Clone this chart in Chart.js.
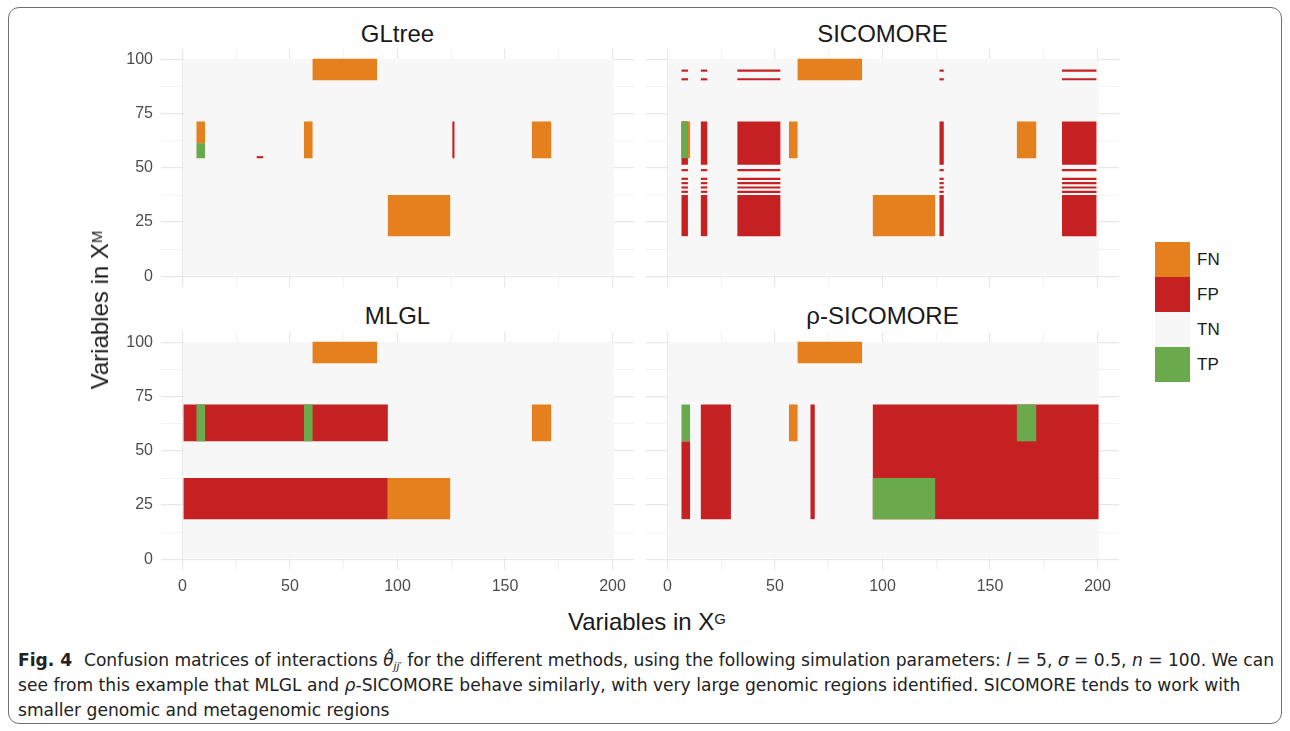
<!DOCTYPE html>
<html>
<head>
<meta charset="utf-8">
<script src="https://cdn.jsdelivr.net/npm/chart.js@4.4.0/dist/chart.umd.min.js"></script>
<style>
  body { margin: 0; width: 1290px; height: 731px; position: relative; overflow: hidden; background: #fff;
         font-family: "Liberation Sans", Arial, sans-serif; }
  .frame { position: absolute; left: 8px; top: 7px; width: 1272px; height: 715px; border: 1px solid #707070; border-radius: 11px; }
  canvas { position: absolute; }
  .ptitle { position: absolute; width: 473px; text-align: center; font-size: 24px; color: #1a1a1a; line-height: 28px; }
  .axtitle { position: absolute; font-size: 24px; color: #1a1a1a; white-space: nowrap; line-height: 28px; }
  .axtitle sup { font-size: 15px; position: relative; top: -3px; vertical-align: top; }
  .key { position: absolute; left: 1155px; width: 35px; height: 35px; }
  .keylab { position: absolute; left: 1197px; font-size: 17px; color: #1a1a1a; line-height: 20px; }
  #caption { position: absolute; left: 18px; top: 647px; font-family: "Liberation Sans Narrow", "DejaVu Sans Condensed", sans-serif;
             font-size: 18px; line-height: 25px; color: #222; white-space: nowrap; transform-origin: 0 0; }
  #caption div { height: 25px; }
  #caption b { margin-right: 6px; }
  #caption sub { font-size: 11px; line-height: 0; vertical-align: -4px; }
</style>
</head>
<body>
<div class="frame"></div>

<div class="ptitle" style="left:161px; top:20px;">GLtree</div>
<div class="ptitle" style="left:646px; top:20px;">SICOMORE</div>
<div class="ptitle" style="left:161px; top:302px;">MLGL</div>
<div class="ptitle" style="left:646px; top:302px;">ρ-SICOMORE</div>

<canvas id="glTree" width="534" height="238" style="left:100px; top:49px;"></canvas>
<canvas id="sicomore" width="473" height="238" style="left:646px; top:49px;"></canvas>
<canvas id="mlgl" width="534" height="268" style="left:100px; top:332px;"></canvas>
<canvas id="rhoSicomore" width="473" height="268" style="left:646px; top:332px;"></canvas>

<div class="axtitle" style="left:568px; top:608px;">Variables in X<sup>G</sup></div>
<div class="axtitle" style="left:100px; top:310px; transform: translate(-50%, -50%) rotate(-90deg);">Variables in X<sup>M</sup></div>

<div class="key" style="top:242px; background:#E5801F;"></div>
<div class="key" style="top:277px; background:#C62122;"></div>
<div class="key" style="top:312px; background:#F7F7F7;"></div>
<div class="key" style="top:347px; background:#6BAA4C;"></div>
<div class="keylab" style="top:250px;">FN</div>
<div class="keylab" style="top:285px;">FP</div>
<div class="keylab" style="top:320px;">TN</div>
<div class="keylab" style="top:355px;">TP</div>

<div id="caption">
  <div id="capLine1"><b>Fig. 4</b> Confusion matrices of interactions <i>θ̂</i><sub><i>jj′</i></sub> for the different methods, using the following simulation parameters: <i>l</i> = 5, <i>σ</i> = 0.5, <i>n</i> = 100. We can</div>
  <div>see from this example that MLGL and <i>ρ</i>-SICOMORE behave similarly, with very large genomic regions identified. SICOMORE tends to work with</div>
  <div>smaller genomic and metagenomic regions</div>
</div>

<script>
// -- ** colores ** -- \\
const colorFN = '#E5801F';
const colorFP = '#C62122';
const colorTN = '#F7F7F7';
const colorTP = '#6BAA4C';

// -- ** ejes ** -- \\
const xTicks = [0, 25, 50, 75, 100, 125, 150, 175, 200];
const yTicks = [0, 12.5, 25, 37.5, 50, 62.5, 75, 87.5, 100];
const xLabels = [0, 50, 100, 150, 200];
const yLabels = [0, 25, 50, 75, 100];

// each block: [first column (X^G), last column, first row (X^M), last row]
const tnAll = [[1, 200, 1, 100]];

const glFN = [[61, 90, 91, 100], [57, 60, 55, 71], [163, 171, 55, 71], [96, 124, 19, 37], [7, 10, 62, 71]];
const glFP = [[35, 37, 55, 55], [126, 126, 55, 71]];
const glTP = [[7, 10, 55, 61]];

const scFN = [[61, 90, 91, 100], [57, 60, 55, 71], [96, 124, 19, 37], [163, 171, 55, 71], [10, 10, 55, 71]];
const scFPcols = [[7, 9], [16, 18], [33, 52], [127, 128], [184, 199]];
const scFProws = [[91, 91], [95, 95], [52, 71], [49, 49], [45, 45], [43, 43], [41, 41], [39, 39], [19, 37]];
const scTP = [[7, 9, 55, 71]];

const mlFN = [[61, 90, 91, 100], [163, 171, 55, 71], [96, 124, 19, 37]];
const mlFP = [[1, 95, 55, 71], [1, 95, 19, 37]];
const mlTP = [[7, 10, 55, 71], [57, 60, 55, 71]];

const rsFN = [[61, 90, 91, 100], [57, 60, 55, 71]];
const rsFP = [[7, 10, 19, 54], [16, 29, 19, 71], [67, 68, 19, 71], [96, 200, 19, 71]];
const rsTP = [[7, 10, 55, 71], [163, 171, 55, 71], [96, 124, 19, 37]];


// -- ** bloques -> datasets ** -- \\
function blockDataset(b, color, order) {
  const x0 = b[0] - 0.5, x1 = b[1] + 0.5, y0 = b[2] - 0.5, y1 = b[3] + 0.5;
  return {
    data: [{ x: x0, y: y0 }, { x: x1, y: y0 }, { x: x1, y: y1 }, { x: x0, y: y1 }],
    backgroundColor: color,
    borderColor: 'transparent',
    borderWidth: 0,
    pointRadius: 0,
    fill: 'shape',
    tension: 0,
    order: order
  };
}

function buildDatasets(fn, fp, tp) {
  let sets = [];
  tnAll.forEach(b => sets.push(blockDataset(b, colorTN, 4)));
  fp.forEach(b => sets.push(blockDataset(b, colorFP, 3)));
  fn.forEach(b => sets.push(blockDataset(b, colorFN, 2)));
  tp.forEach(b => sets.push(blockDataset(b, colorTP, 1)));
  return sets;
}

function crossBlocks(cols, rows) {
  let out = [];
  cols.forEach(c => rows.forEach(r => out.push([c[0], c[1], r[0], r[1]])));
  return out;
}

function noPadding(axis) {
  axis.paddingTop = 0;
  axis.paddingBottom = 0;
  axis.paddingLeft = 0;
  axis.paddingRight = 0;
}


// -- ** render panel ** -- \\
function renderPanel(id, datasets, showX, showY) {
  const gridStyle = (major) => ({
    color: (ctx) => (ctx.tick && major.includes(ctx.tick.value)) ? '#e8e8e8' : '#f0f0f0',
    lineWidth: (ctx) => (ctx.tick && major.includes(ctx.tick.value)) ? 1.2 : 0.8,
    drawTicks: false
  });
  const config = {
    type: 'line',
    data: { datasets: datasets },
    options: {
      responsive: false,
      animation: false,
      events: [],
      layout: { padding: 0 },
      plugins: { legend: { display: false }, tooltip: { enabled: false }, filler: { propagate: false } },
      scales: {
        x: {
          type: 'linear', min: -10, max: 210,
          afterBuildTicks: (axis) => { axis.ticks = xTicks.map(v => ({ value: v })); },
          afterFit: (axis) => { axis.height = showX ? 30 : 0; noPadding(axis); },
          grid: gridStyle(xLabels),
          border: { display: false },
          ticks: {
            display: showX, padding: 7, color: '#4d4d4d', maxRotation: 0, autoSkip: false,
            font: { family: 'Liberation Sans', size: 16 },
            callback: (v) => xLabels.includes(v) ? String(v) : ''
          }
        },
        y: {
          type: 'linear', min: -5, max: 105,
          afterBuildTicks: (axis) => { axis.ticks = yTicks.map(v => ({ value: v })); },
          afterFit: (axis) => { axis.width = showY ? 61 : 0; noPadding(axis); },
          grid: gridStyle(yLabels),
          border: { display: false },
          ticks: {
            display: showY, padding: 8, color: '#4d4d4d', autoSkip: false,
            font: { family: 'Liberation Sans', size: 16 },
            callback: (v) => yLabels.includes(v) ? String(v) : ''
          }
        }
      }
    }
  };
  return new Chart(document.getElementById(id), config);
}

renderPanel('glTree', buildDatasets(glFN, glFP, glTP), false, true);
renderPanel('sicomore', buildDatasets(scFN, crossBlocks(scFPcols, scFProws), scTP), false, false);
renderPanel('mlgl', buildDatasets(mlFN, mlFP, mlTP), true, true);
renderPanel('rhoSicomore', buildDatasets(rsFN, rsFP, rsTP), true, false);


// -- ** ajustar ancho del pie ** -- \\
const caption = document.getElementById('caption');
const range = document.createRange();
range.selectNodeContents(document.getElementById('capLine1'));
const textWidth = range.getBoundingClientRect().width;
caption.style.transform = 'scaleX(' + (1256 / textWidth) + ')';
</script>
</body>
</html>
